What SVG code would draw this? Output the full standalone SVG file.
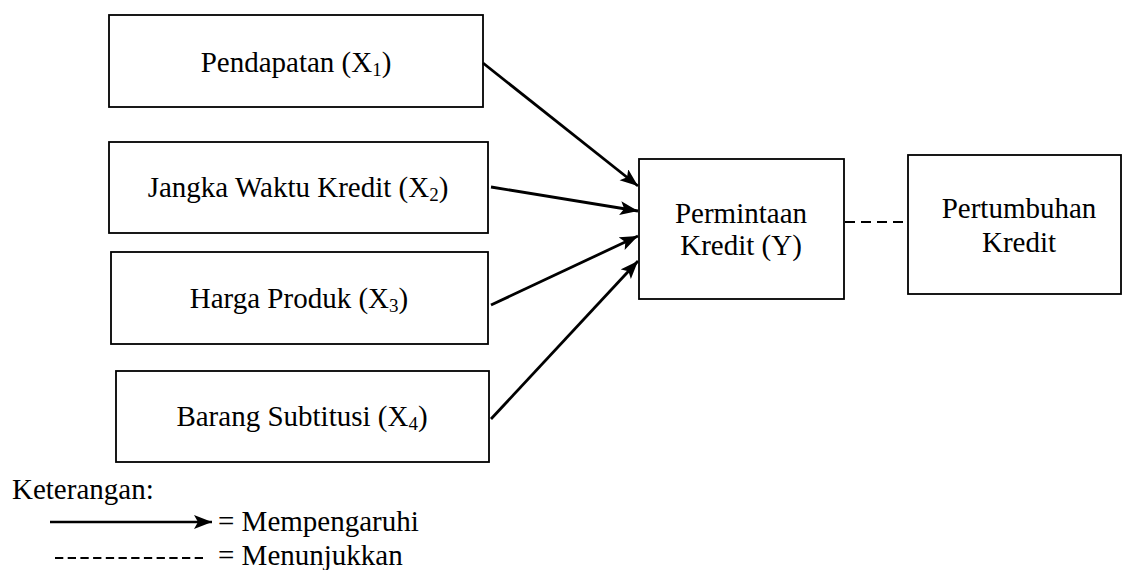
<svg xmlns="http://www.w3.org/2000/svg" width="1122" height="570" viewBox="0 0 1122 570">
<style>
.box{fill:#fff;stroke:#000;stroke-width:1.8}
.t{font-family:"Liberation Serif","Times New Roman",serif;font-size:29px;fill:#000}
.sub{font-size:19px}
.arr{stroke:#000;stroke-width:2.8;fill:none;marker-end:url(#ah)}
.dash{stroke:#000;stroke-width:2.2;fill:none}
</style>
<defs>
<marker id="ah" markerUnits="userSpaceOnUse" markerWidth="20" markerHeight="16" refX="18" refY="7" orient="auto">
<path d="M0,0 L18,7 L0,14 L4,7 z" fill="#000"/>
</marker>
</defs>
<rect width="1122" height="570" fill="#fff"/>
<g id="x1"><rect class="box" x="109" y="15" width="374" height="92"/>
<text class="t" x="296" y="72" text-anchor="middle">Pendapatan (X<tspan class="sub" dy="4">1</tspan><tspan dy="-4">)</tspan></text></g>
<g id="x2"><rect class="box" x="109" y="142" width="379" height="91"/>
<text class="t" x="298" y="197" text-anchor="middle">Jangka Waktu Kredit (X<tspan class="sub" dy="4">2</tspan><tspan dy="-4">)</tspan></text></g>
<g id="x3"><rect class="box" x="111" y="252" width="377" height="92"/>
<text class="t" x="299" y="308" text-anchor="middle">Harga Produk (X<tspan class="sub" dy="4">3</tspan><tspan dy="-4">)</tspan></text></g>
<g id="x4"><rect class="box" x="116" y="371" width="373" height="91"/>
<text class="t" x="302" y="426" text-anchor="middle">Barang Subtitusi (X<tspan class="sub" dy="4">4</tspan><tspan dy="-4">)</tspan></text></g>
<g id="y"><rect class="box" x="639" y="159" width="205" height="140"/>
<text class="t" x="741" y="223" text-anchor="middle">Permintaan</text>
<text class="t" x="741" y="255" text-anchor="middle">Kredit (Y)</text></g>
<g id="pk"><rect class="box" x="908" y="155" width="213" height="139"/>
<text class="t" x="1019" y="218" text-anchor="middle">Pertumbuhan</text>
<text class="t" x="1019" y="252" text-anchor="middle">Kredit</text></g>
<g id="connectors">
<line class="arr" x1="483" y1="63" x2="638" y2="186"/>
<line class="arr" x1="491" y1="187" x2="638" y2="211"/>
<line class="arr" x1="491" y1="305" x2="638" y2="236"/>
<line class="arr" x1="491" y1="419" x2="638" y2="261"/>
<line class="dash" x1="845" y1="222" x2="907" y2="222" stroke-dasharray="10 6"/>
</g>
<g id="legend">
<text class="t" x="12" y="499">Keterangan:</text>
<line class="arr" x1="50" y1="522" x2="212" y2="522" style="stroke-width:2.4"/>
<text class="t" x="218" y="531">= Mempengaruhi</text>
<line class="dash" x1="55" y1="558" x2="203" y2="558" stroke-width="1.6" stroke-dasharray="8.3 4.4"/>
<text class="t" x="218" y="565">= Menunjukkan</text>
</g>
</svg>
